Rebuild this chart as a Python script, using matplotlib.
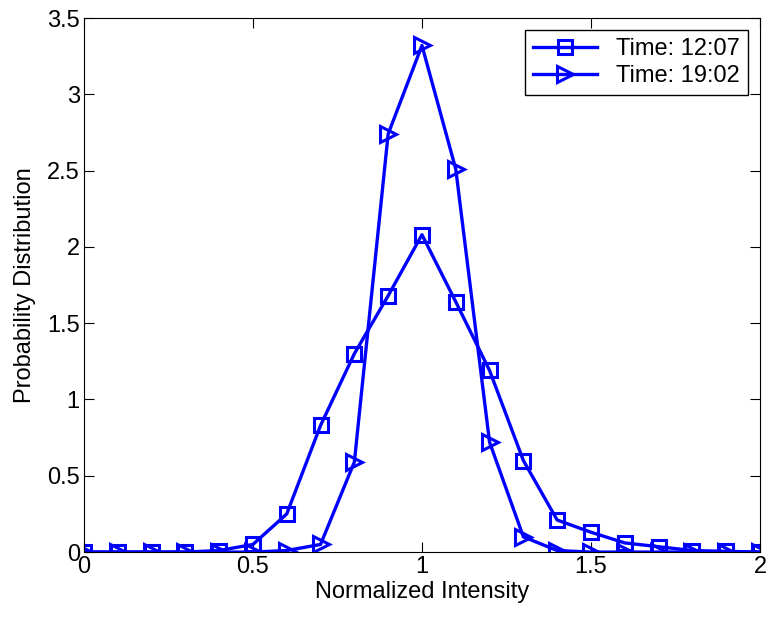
import matplotlib
matplotlib.use('Agg')
import matplotlib.pyplot as plt

plt.rcParams['font.family'] = ['Liberation Sans', 'DejaVu Sans']

# data
intensity = [0.0, 0.1, 0.2, 0.3, 0.4, 0.5, 0.6, 0.7, 0.8, 0.9, 1.0,
             1.1, 1.2, 1.3, 1.4, 1.5, 1.6, 1.7, 1.8, 1.9, 2.0]
prob_1207 = [0.0, 0.0, 0.0, 0.0, 0.01, 0.05, 0.25, 0.83, 1.30, 1.68, 2.08,
             1.64, 1.19, 0.60, 0.21, 0.13, 0.06, 0.035, 0.01, 0.005, 0.0]
prob_1902 = [0.0, 0.0, 0.0, 0.0, 0.0, 0.0, 0.01, 0.05, 0.59, 2.74, 3.32,
             2.51, 0.72, 0.10, 0.01, 0.0, 0.0, 0.0, 0.0, 0.0, 0.0]
labels = ['Time: 12:07', 'Time: 19:02']

fs = 17

fig = plt.figure(figsize=(7.7, 6.21), dpi=100)
ax = fig.add_axes([0.109, 0.111, 0.878, 0.86])

ax.plot(intensity, prob_1207, color='blue', lw=2.4, marker='s', ms=10,
        mfc='none', mew=2.2, label=labels[0])
ax.plot(intensity, prob_1902, color='blue', lw=2.4, marker='>', ms=11,
        mfc='none', mew=2.2, label=labels[1])

ax.set_xlim(0, 2)
ax.set_ylim(0, 3.5)
ax.set_xticks([0, 0.5, 1, 1.5, 2])
ax.set_xticklabels(['0', '0.5', '1', '1.5', '2'])
ax.set_yticks([0, 0.5, 1, 1.5, 2, 2.5, 3, 3.5])
ax.set_yticklabels(['0', '0.5', '1', '1.5', '2', '2.5', '3', '3.5'])
ax.tick_params(direction='in', top=True, right=True, labelsize=fs, length=7, pad=3)

ax.set_xlabel('Normalized Intensity', fontsize=fs, labelpad=2)
ax.set_ylabel('Probability Distribution', fontsize=fs, labelpad=8)

leg = ax.legend(loc='upper right', fontsize=fs, fancybox=False, framealpha=1,
                edgecolor='black', handlelength=2.7, borderaxespad=0.5,
                borderpad=0.35, labelspacing=0.2, handletextpad=0.8)
leg.get_frame().set_linewidth(1)

fig.savefig('out.png', dpi=100)
